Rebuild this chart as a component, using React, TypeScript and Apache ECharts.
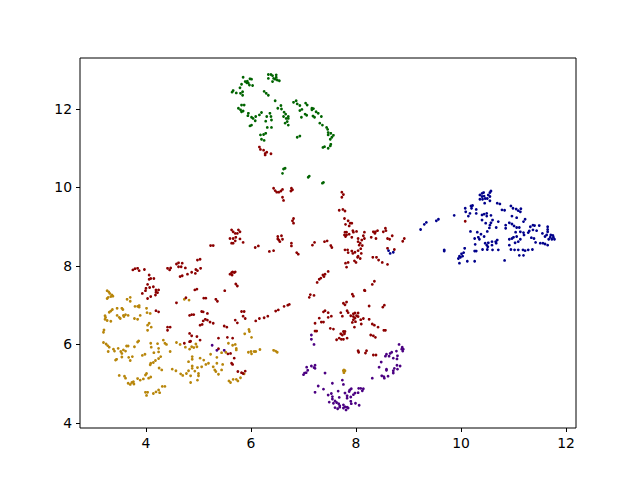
import React, { useEffect, useRef } from "react";
import * as echarts from "echarts";

const xTicks = [4, 6, 8, 10, 12];
const yTicks = [4, 6, 8, 10, 12];

const goldPoints = [
  [3.26,7.37],[3.29,7.34],[3.31,7.30],[3.35,7.26],[3.37,7.23],[3.33,7.22],[3.28,7.20],[3.26,7.17],
  [3.70,7.20],[3.64,7.15],[3.70,7.10],[3.45,6.92],[3.54,6.92],[3.56,6.89],[3.36,6.89],[3.33,6.85],[3.30,6.82],
  [3.79,6.97],[3.84,6.97],[3.87,6.99],[3.87,6.95],[4.01,6.92],[4.02,6.81],[4.08,6.79],
  [3.22,6.73],[3.23,6.69],[3.22,6.64],[3.26,6.61],[3.33,6.59],[3.45,6.74],[3.49,6.69],[3.51,6.66],[3.57,6.74],[3.61,6.76],[3.66,6.74],[3.58,6.71],
  [3.78,6.66],[3.84,6.64],[3.89,6.74],[4.06,6.54],[4.03,6.49],[4.10,6.44],[4.03,6.36],[3.20,6.37],[3.19,6.31],
  [3.19,6.05],[3.24,6.01],[3.27,5.97],[3.30,5.93],[3.28,5.82],[3.38,5.88],[3.40,5.83],[3.47,5.90],[3.52,5.82],[3.57,5.86],[3.61,5.83],[3.54,5.77],[3.54,5.68],
  [3.63,5.96],[3.66,5.96],[3.84,6.06],[3.86,6.09],[3.78,5.94],[3.42,5.60],[3.44,5.62],[3.67,5.67],[3.70,5.59],[3.74,5.69],[3.93,5.72],[3.98,5.75],
  [4.09,6.03],[4.10,5.93],[4.22,6.02],[4.24,5.90],[4.24,5.81],[4.15,5.79],[4.33,6.11],[4.36,6.03],[4.39,6.00],[4.46,5.82],
  [4.58,6.05],[4.65,6.00],[4.75,5.93],[4.83,5.88],[4.87,5.94],[4.91,5.92],[4.95,6.01],[4.97,5.94],[4.73,7.15],[4.82,7.13],
  [4.28,5.69],[4.24,5.64],[4.18,5.59],[4.14,5.54],[4.09,5.52],[4.08,5.48],[4.25,5.40],[4.30,5.35],[4.50,5.37],[4.57,5.33],
  [4.66,5.25],[4.70,5.21],[4.77,5.26],[4.81,5.33],[4.85,5.20],[4.88,5.69],[4.88,5.62],[4.81,5.56],[4.88,5.45],[4.88,5.39],[4.93,5.32],[4.98,5.41],[5.00,5.26],[5.00,5.20],[5.06,5.43],
  [5.03,5.65],[5.10,5.60],[5.14,5.49],[5.19,5.52],[5.23,5.75],[5.35,5.67],[5.35,5.52],[5.28,5.43],[5.31,5.35],[5.33,5.31],[5.38,5.24],[5.44,5.35],[5.46,5.49],
  [4.85,5.03],[4.98,5.09],[3.49,5.21],[3.59,5.19],[3.61,5.14],[3.66,5.01],[3.70,4.98],[3.73,5.03],[3.76,5.05],[3.84,5.13],[3.89,5.09],[3.77,4.99],
  [4.01,5.26],[3.99,5.22],[3.95,5.12],[4.05,5.14],[4.09,5.17],[3.99,4.78],[4.03,4.78],[4.01,4.70],[4.14,4.75],[4.19,4.79],[4.24,4.84],[4.26,4.77],[4.31,4.93],[4.36,4.93],
  [5.58,5.07],[5.61,5.03],[5.66,5.11],[5.72,5.11],[5.75,5.07],[5.80,5.15],[5.87,5.25],[5.57,6.03],[5.65,5.98],[5.70,6.00],[5.72,5.90],[5.72,5.86],[5.44,5.79],[5.52,5.80],
  [5.88,6.27],[5.96,6.38],[5.97,6.33],[6.01,6.18],[5.95,5.80],[6.00,5.82],[6.01,5.76],[6.06,5.82],[6.09,5.82],[6.17,5.87],[6.43,5.85],[6.47,5.83],[6.50,5.80],
  [7.76,5.33],[7.79,5.33],[7.77,5.35],[7.77,5.28],
];

const redPoints = [
  [5.23,8.52],[5.28,8.52],[6.08,8.47],[6.14,8.51],[3.75,7.90],[3.79,7.93],[3.84,7.94],[3.87,7.88],[3.97,7.91],[4.41,7.94],[4.45,7.90],[4.47,7.95],
  [4.58,8.05],[4.62,8.08],[4.69,8.07],[4.67,7.98],[4.62,7.98],[4.75,7.95],[4.98,8.15],[5.03,8.17],[4.95,7.91],[4.98,7.88],[5.04,7.94],[4.94,7.81],[4.87,7.84],[4.79,7.79],[4.69,7.75],[4.65,7.73],
  [5.60,7.79],[5.63,7.83],[5.65,7.85],[5.68,7.83],[5.64,7.77],[5.70,7.85],[5.71,7.54],[5.74,7.49],[5.50,7.37],[4.93,7.39],[4.97,7.41],[5.10,7.18],[5.14,7.18],[5.33,7.15],[5.36,7.10],[4.58,7.06],[4.76,7.19],
  [4.06,7.77],[4.09,7.68],[4.15,7.68],[4.06,7.66],[4.03,7.53],[4.00,7.43],[3.99,7.37],[4.07,7.45],[4.14,7.47],[3.93,7.30],[4.19,7.39],[4.24,7.39],[4.19,7.33],[4.22,7.32],[4.18,7.26],[4.09,7.22],[4.03,7.17],
  [4.19,6.86],[4.24,6.83],[4.41,6.44],[4.46,6.44],[4.41,6.36],[4.83,6.74],[4.87,6.76],[4.91,6.76],[5.06,6.84],[5.09,6.83],[5.17,6.79],
  [5.03,6.49],[5.07,6.51],[5.09,6.60],[5.13,6.64],[5.17,6.62],[5.22,6.57],[5.28,6.54],[5.49,6.47],[5.54,6.44],[5.70,6.62],[5.74,6.55],[5.82,6.84],[5.87,6.84],[5.85,6.72],[5.89,6.66],[6.09,6.60],[6.16,6.66],
  [4.83,6.28],[4.87,6.22],[4.97,6.20],[5.03,6.11],[4.83,6.07],[4.85,6.08],[4.73,6.03],[5.38,6.16],[5.55,6.18],[5.65,6.16],[5.38,5.89],[5.56,5.76],[5.61,5.77],[5.68,5.65],[5.63,5.52],[5.65,5.49],[5.75,5.31],[5.82,5.28],[5.85,5.26],[5.89,5.32],
  [6.16,11.03],[6.18,10.97],[6.24,10.95],[6.27,10.87],[6.27,10.83],[6.30,10.90],[6.38,10.86],[10.08,9.14],
  [7.13,7.27],[7.11,7.20],[7.20,7.25],[7.93,7.28],[7.95,7.23],[8.17,7.37],[7.76,7.05],[7.79,7.01],[7.82,7.08],[8.25,6.98],[8.54,7.00],[8.51,6.95],
  [7.41,6.86],[7.38,6.83],[7.47,6.81],[7.71,6.81],[7.83,6.86],[7.85,6.81],[7.53,6.72],[7.47,6.69],[7.74,6.72],[7.30,6.67],
  [7.95,6.78],[7.98,6.80],[8.04,6.80],[7.90,6.73],[7.95,6.71],[8.01,6.73],[8.04,6.71],[7.98,6.67],[7.95,6.63],[7.99,6.58],[7.93,6.56],[8.09,6.63],[8.14,6.66],[8.10,6.52],[8.25,6.64],[7.97,6.44],
  [7.22,6.54],[7.34,6.57],[7.38,6.57],[7.51,6.41],[7.57,6.39],[7.22,6.34],[7.25,6.34],[8.31,6.52],[8.35,6.49],[8.42,6.44],[8.53,6.36],[8.56,6.36],[8.28,6.24],[8.33,6.22],[8.37,6.18],
  [7.76,6.33],[7.79,6.33],[7.71,6.27],[7.74,6.24],[7.78,6.27],[7.68,6.16],[7.63,6.12],[7.72,6.13],[7.76,6.13],[7.83,6.16],[8.04,5.84],[8.05,5.80],[8.18,5.78],[8.20,5.84],[8.33,5.73],[8.38,5.73],
  [6.43,9.98],[6.46,9.92],[6.49,9.88],[6.53,9.88],[6.57,9.91],[6.60,9.95],[6.77,9.98],[6.76,9.91],[6.79,9.94],[6.60,9.75],[6.62,9.67],[6.81,9.21],[6.79,9.15],[6.81,9.09],
  [7.73,9.88],[7.76,9.82],[7.73,9.75],[7.68,9.42],[7.75,9.44],[7.79,9.40],[7.78,9.21],[7.85,9.15],[7.80,9.06],[7.89,9.09],[7.92,9.09],[7.87,9.02],
  [7.79,8.86],[7.82,8.86],[7.78,8.79],[7.82,8.79],[7.87,8.81],[7.80,8.75],[7.92,8.73],[7.94,8.90],[7.95,8.86],[8.01,8.88],[8.16,8.86],[8.14,8.77],[8.16,8.70],[8.04,8.70],[8.11,8.66],
  [8.04,8.62],[8.08,8.58],[8.12,8.52],[8.06,8.53],[8.09,8.44],[8.29,8.73],[8.38,8.70],[8.33,8.87],[8.37,8.87],[8.41,8.90],[8.36,8.83],[8.52,8.87],[8.56,8.96],[8.57,8.90],[8.69,8.77],[8.60,8.70],[8.64,8.68],[8.89,8.63],[8.92,8.70],[8.73,8.42],[8.60,8.45],
  [7.79,8.41],[7.84,8.41],[7.85,8.34],[7.92,8.38],[7.94,8.32],[7.98,8.35],[8.04,8.39],[8.10,8.32],[8.04,8.25],[8.03,8.22],[8.08,8.19],[7.80,8.07],[7.85,8.09],[7.97,8.13],[8.00,8.09],[7.82,7.97],
  [8.32,8.22],[8.39,8.22],[8.43,8.15],[8.50,8.09],[8.60,8.04],[8.35,7.61],[8.31,7.53],[8.16,7.38],
  [7.26,7.58],[7.30,7.66],[7.33,7.69],[7.37,7.77],[7.39,7.73],[7.41,7.79],[7.47,7.86],[7.17,8.53],[7.21,8.60],[7.40,8.62],[7.45,8.64],[7.52,8.52],[7.54,8.47],[6.87,8.34],[6.90,8.30],[6.35,8.37],[6.43,8.39],
  [6.51,8.75],[6.58,8.77],[6.51,8.69],[6.55,8.62],[6.60,8.68],[6.53,8.66],[6.77,8.58],[6.77,8.51],
  [5.63,8.92],[5.66,8.87],[5.76,8.92],[5.79,8.87],[5.70,8.83],[5.74,8.83],[5.60,8.70],[5.66,8.70],[5.71,8.73],[5.79,8.69],[5.85,8.60],[5.63,8.58],[5.66,8.58],[5.70,8.64],
  [6.25,6.68],[6.32,6.72],[6.47,6.85],[6.52,6.88],[6.63,6.97],[6.70,7.00],[6.73,7.02],
];

const greenPoints = [
  [5.85,12.81],[5.89,12.70],[5.92,12.67],[5.95,12.66],[5.98,12.77],[6.01,12.76],[5.97,12.61],[6.03,12.60],[5.93,12.71],[5.82,12.63],[5.79,12.54],[5.66,12.47],[5.64,12.43],[5.72,12.41],[5.80,12.40],[5.84,12.44],[5.84,12.35],
  [6.33,12.88],[6.38,12.88],[6.41,12.85],[6.48,12.87],[6.33,12.78],[6.43,12.78],[6.46,12.76],[6.50,12.74],[6.54,12.72],[6.41,12.70],[6.48,12.81],[6.25,12.45],[6.29,12.40],[6.33,12.35],[6.46,12.21],
  [6.81,12.17],[6.86,12.21],[6.88,12.13],[6.93,12.09],[7.04,12.15],[7.07,12.10],[6.97,11.99],[6.93,11.96],[7.16,12.02],[7.19,12.01],[7.16,11.98],[7.03,11.87],[7.06,11.84],[6.96,11.79],
  [7.18,11.82],[7.21,11.79],[7.24,11.93],[7.28,11.89],[7.34,11.81],[7.31,11.64],[7.36,11.59],[7.44,11.53],[7.46,11.48],[7.47,11.40],[7.52,11.38],[7.57,11.33],[7.54,11.28],[7.51,11.23],[7.47,11.34],
  [6.88,11.28],[6.93,11.31],[7.37,11.02],[7.40,11.04],[7.47,11.00],[7.51,11.06],[7.52,11.10],
  [6.57,12.09],[6.51,12.02],[6.58,12.00],[6.63,11.92],[6.66,11.87],[6.62,11.81],[6.71,11.81],[6.67,11.76],[6.71,11.76],[6.69,11.68],[6.65,11.64],[6.71,11.59],
  [5.76,12.02],[5.82,12.10],[5.87,12.10],[5.80,11.98],[5.82,11.93],[5.85,11.95],[5.95,11.89],[5.94,11.83],[6.01,11.79],[6.04,11.76],[6.09,11.81],[6.08,11.70],[6.16,11.85],[6.20,11.91],
  [6.30,11.81],[6.36,11.89],[6.38,11.81],[6.39,11.72],[6.28,11.69],[5.98,11.57],[6.01,11.59],[6.31,11.53],[6.39,11.53],[6.28,11.38],[6.24,11.35],[6.18,11.34],[6.20,11.23],[6.25,11.20],
  [6.62,10.47],[6.65,10.49],[6.60,10.36],[7.09,10.26],[7.11,10.29],[7.36,10.11],[7.38,10.13],
];

const bluePoints = [
  [9.23,8.93],[9.30,9.06],[9.34,9.11],[9.53,9.15],[9.57,9.19],[9.87,9.29],[9.68,8.38],[9.68,8.41],[9.95,8.19],[9.97,8.25],[9.99,8.22],[10.01,8.31],[10.03,8.25],[10.07,8.45],[10.05,8.34],[9.97,8.07],[10.12,8.12],[10.26,8.12],[10.83,8.14],
  [10.36,9.81],[10.40,9.85],[10.43,9.87],[10.36,9.70],[10.40,9.77],[10.44,9.78],[10.41,9.70],[10.46,9.72],[10.45,9.60],[10.52,9.81],[10.55,9.87],[10.57,9.91],[10.55,9.77],[10.50,9.72],[10.55,9.66],[10.69,9.60],[10.74,9.58],
  [10.08,9.47],[10.09,9.38],[10.19,9.53],[10.22,9.54],[10.20,9.47],[10.29,9.44],[10.29,9.34],[10.17,9.34],[10.14,9.27],[10.40,9.30],[10.40,9.17],[10.44,9.32],[10.49,9.34],[10.49,9.27],[10.57,9.29],
  [10.47,9.09],[10.57,9.10],[10.60,9.17],[10.55,9.04],[10.54,8.97],[10.50,8.88],[10.67,8.98],[10.71,9.13],[10.18,8.88],[10.31,8.86],[10.38,8.81],[10.44,8.75],[10.26,8.70],[10.33,8.73],[10.35,8.68],[10.27,8.55],
  [10.26,8.38],[10.29,8.38],[10.41,8.42],[10.46,8.58],[10.49,8.53],[10.52,8.59],[10.51,8.49],[10.50,8.42],[10.59,8.62],[10.59,8.53],[10.60,8.41],[10.66,8.62],[10.69,8.66],[10.67,8.58],[10.71,8.41],
  [10.92,9.10],[10.97,9.07],[10.85,9.04],[10.85,8.96],[11.01,9.02],[11.06,8.98],[11.11,8.98],[11.04,8.86],[11.13,8.87],[11.06,8.75],[10.78,9.43],[10.83,9.42],[10.95,9.53],[10.99,9.47],[11.05,9.45],[11.09,9.41],[11.14,9.46],[11.13,9.38],[10.97,9.27],[11.06,9.23],[11.22,9.19],[11.19,9.13],
  [10.92,8.68],[10.97,8.70],[11.00,8.73],[11.03,8.59],[11.09,8.62],[11.13,8.68],[11.20,8.79],[11.19,8.85],[11.28,8.85],[11.30,8.89],[11.32,9.00],[11.37,9.04],[11.40,9.03],[11.49,9.03],[11.37,8.92],[11.44,8.90],[11.34,8.72],[11.39,8.70],[11.42,8.60],
  [10.92,8.53],[10.95,8.42],[11.02,8.41],[11.09,8.41],[11.18,8.41],[11.22,8.39],[11.28,8.41],[11.36,8.42],[11.11,8.27],[11.19,8.27],[11.51,8.58],[11.56,8.58],[11.60,8.56],[11.65,8.53],
  [11.65,9.00],[11.65,8.93],[11.65,8.87],[11.55,8.83],[11.60,8.75],[11.63,8.79],[11.67,8.68],[11.70,8.73],[11.73,8.68],[11.76,8.73],[11.75,8.78],[11.71,8.79],[11.78,8.68],
  [8.62,8.39],[8.65,8.32],[8.71,8.35],
];

const purplePoints = [
  [5.26,5.98],[5.35,5.85],[5.49,5.85],[7.15,6.24],[7.15,6.13],[7.20,6.00],[8.82,6.00],[8.88,5.93],[8.90,5.88],[8.87,5.88],[8.89,5.83],[8.77,5.83],[8.68,5.80],[8.65,5.77],[8.58,5.75],[8.56,5.70],[8.63,5.70],[8.71,5.65],[8.79,5.71],[8.78,5.63],
  [8.48,5.55],[8.44,5.42],[8.58,5.37],[8.58,5.34],[8.73,5.39],[8.78,5.47],[8.84,5.45],[8.79,5.37],[8.71,5.33],[8.71,5.27],[8.49,5.20],[8.53,5.18],[8.54,5.14],[8.61,5.19],[8.31,5.14],
  [7.06,5.42],[7.08,5.34],[7.02,5.27],[7.00,5.23],[7.05,5.28],[7.15,5.45],[7.22,5.47],[7.20,5.41],[7.22,5.39],[7.41,5.27],
  [7.55,5.01],[7.74,5.09],[7.76,4.98],[7.28,4.94],[7.38,4.86],[7.22,4.78],[7.66,4.81],[7.88,4.84],[7.91,4.87],[7.87,4.80],[8.05,4.88],[8.09,4.88],[8.14,4.87],[8.12,4.82],[8.04,4.77],[7.98,4.76],[7.95,4.72],[7.90,4.66],[7.83,4.69],[7.83,4.63],[7.79,4.76],
  [7.47,4.71],[7.53,4.75],[7.55,4.67],[7.55,4.61],[7.49,4.53],[7.60,4.56],[7.68,4.65],[7.63,4.52],[7.67,4.49],[7.69,4.44],[7.60,4.39],[7.65,4.36],[7.69,4.40],[7.76,4.46],[7.79,4.41],[7.83,4.40],[7.81,4.33],[7.85,4.38],[7.76,4.38],[7.90,4.55],[7.91,4.49],[7.99,4.50],[8.06,4.45],[7.57,4.50],
];

const seriesList = [
  { name: "gold", color: "#b8860b", data: goldPoints },
  { name: "red", color: "#8b0000", data: redPoints },
  { name: "green", color: "#006400", data: greenPoints },
  { name: "blue", color: "#00008b", data: bluePoints },
  { name: "purple", color: "#4b0082", data: purplePoints },
];

const axisBase = (ticks: number[]) => ({
  type: "value" as const,
  splitLine: { show: false },
  axisLine: { show: false },
  axisTick: { show: true, length: 4, inside: false, customValues: ticks, lineStyle: { color: "#000", width: 1 } },
  axisLabel: {
    show: true,
    customValues: ticks,
    color: "#000",
    fontFamily: "DejaVu Sans",
    fontSize: 13.9,
    margin: 8,
    formatter: (v: number) => String(v),
  },
});

export default function App() {
  const ref = useRef<HTMLDivElement>(null);
  useEffect(() => {
    const chart = echarts.init(ref.current!, undefined, { renderer: "svg" });
    chart.setOption({
      animation: false,
      backgroundColor: "#fff",
      grid: { show: true, left: 80, top: 58, right: 64, bottom: 52, borderColor: "#000", borderWidth: 1, backgroundColor: "transparent" },
      xAxis: { ...axisBase(xTicks), min: 2.743, max: 12.19 },
      yAxis: { ...axisBase(yTicks), min: 3.87, max: 13.3 },
      series: seriesList.map((s) => ({
        type: "scatter",
        name: s.name,
        data: s.data,
        symbol: "circle",
        symbolSize: 2.8,
        itemStyle: { color: s.color, opacity: 1 },
        silent: true,
      })),
    });
    return () => chart.dispose();
  }, []);
  return <div ref={ref} style={{ position: "fixed", left: 0, top: 0, width: 640, height: 480 }} />;
}
